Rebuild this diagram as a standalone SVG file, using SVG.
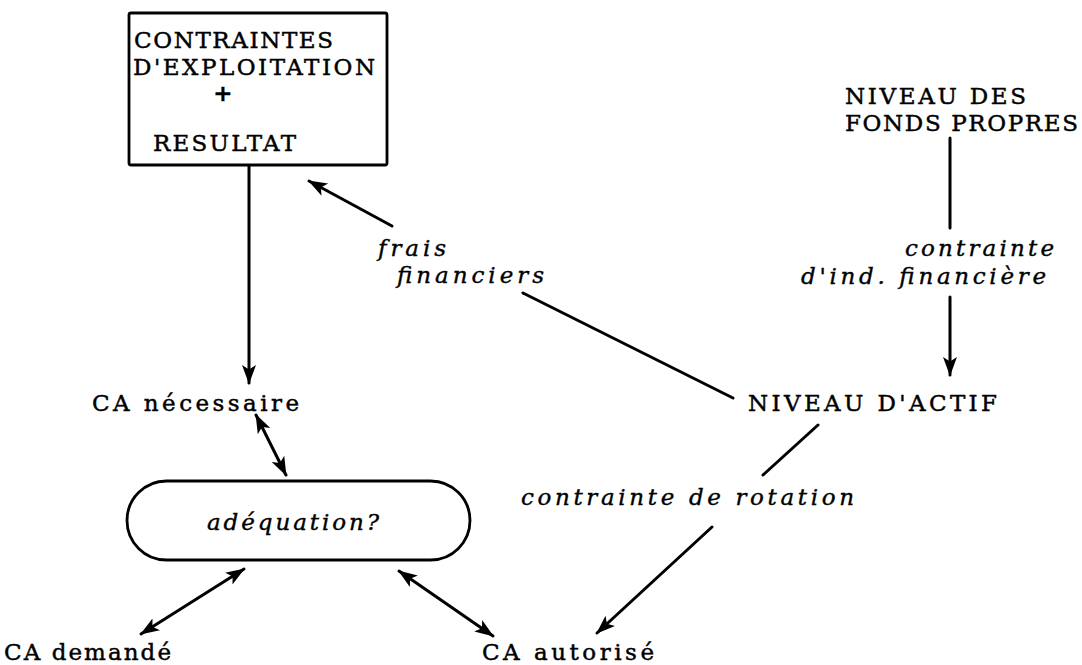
<svg xmlns="http://www.w3.org/2000/svg" width="1082" height="665" viewBox="0 0 1082 665">
  <defs>
    <style>
      .t { font-family: "DejaVu Serif", "Liberation Serif", serif; font-size: 23px; fill: #000; stroke: #000; stroke-width: 0.45; }
      .i { font-family: "DejaVu Serif", "Liberation Serif", serif; font-size: 23px; font-style: italic; fill: #000; stroke: #000; stroke-width: 0.4; }
      .edge { stroke: #000; stroke-width: 3; fill: none; stroke-linecap: round; }
      .shape { stroke: #000; stroke-width: 2.8; fill: #fff; }
    </style>
    <marker id="head" markerUnits="userSpaceOnUse" markerWidth="20" markerHeight="16" refX="18" refY="8" orient="auto-start-reverse">
      <path d="M0,1 L19,8 L0,15 L4.5,8 z" fill="#000"/>
    </marker>
  </defs>

  <rect width="1082" height="665" fill="#fff"/>

  <!-- connectors -->
  <g id="connectors">
    <!-- result box down to required turnover -->
    <line class="edge" x1="249" y1="165" x2="249" y2="383" marker-end="url(#head)"/>
    <!-- asset level back to the box: financial costs -->
    <line class="edge" x1="733" y1="398" x2="523" y2="293"/>
    <line class="edge" x1="392" y1="226" x2="309" y2="181" marker-end="url(#head)"/>
    <!-- equity level down to asset level -->
    <line class="edge" x1="950" y1="138" x2="950" y2="228"/>
    <line class="edge" x1="950" y1="297" x2="950" y2="375" marker-end="url(#head)"/>
    <!-- asset level down to authorised turnover: rotation constraint -->
    <line class="edge" x1="818" y1="425" x2="763" y2="475"/>
    <line class="edge" x1="712" y1="527" x2="597" y2="633" marker-end="url(#head)"/>
    <!-- two-way links around the adequacy test -->
    <line class="edge" x1="256" y1="415" x2="286" y2="475" marker-start="url(#head)" marker-end="url(#head)"/>
    <line class="edge" x1="244" y1="569" x2="141" y2="634" marker-start="url(#head)" marker-end="url(#head)"/>
    <line class="edge" x1="399" y1="571" x2="493" y2="636" marker-start="url(#head)" marker-end="url(#head)"/>
  </g>

  <g id="box-resultat">
    <rect class="shape" x="129" y="13" width="258" height="152" rx="2"/>
    <text class="t" x="134" y="48" textLength="199" lengthAdjust="spacing">CONTRAINTES</text>
    <text class="t" x="133" y="75" textLength="242" lengthAdjust="spacing">D'EXPLOITATION</text>
    <text class="t" x="223" y="101" text-anchor="middle" font-weight="bold">+</text>
    <text class="t" x="153" y="151" textLength="143" lengthAdjust="spacing">RESULTAT</text>
  </g>

  <g id="fonds-propres">
    <text class="t" x="845" y="104" textLength="181" lengthAdjust="spacing">NIVEAU DES</text>
    <text class="t" x="845" y="131" textLength="233" lengthAdjust="spacing">FONDS PROPRES</text>
  </g>

  <g id="label-frais">
    <text class="i" x="378" y="256" textLength="68" lengthAdjust="spacing">frais</text>
    <text class="i" x="397" y="283" textLength="147" lengthAdjust="spacing">financiers</text>
  </g>

  <g id="label-independance">
    <text class="i" x="905" y="256" textLength="149" lengthAdjust="spacing">contrainte</text>
    <text class="i" x="801" y="284" textLength="245" lengthAdjust="spacing">d'ind. financière</text>
  </g>

  <g id="ca-necessaire">
    <text class="t" x="92" y="411" textLength="207" lengthAdjust="spacing">CA nécessaire</text>
  </g>

  <g id="niveau-actif">
    <text class="t" x="748" y="411" textLength="249" lengthAdjust="spacing">NIVEAU D'ACTIF</text>
  </g>

  <g id="adequation">
    <rect class="shape" x="127" y="481" width="343" height="79" rx="39.5"/>
    <text class="i" x="207" y="530" textLength="172" lengthAdjust="spacing">adéquation?</text>
  </g>

  <g id="label-rotation">
    <text class="i" x="521" y="505" textLength="333" lengthAdjust="spacing">contrainte de rotation</text>
  </g>

  <g id="ca-demande">
    <text class="t" x="4" y="660" textLength="167" lengthAdjust="spacing">CA demandé</text>
  </g>

  <g id="ca-autorise">
    <text class="t" x="482" y="660" textLength="172" lengthAdjust="spacing">CA autorisé</text>
  </g>
</svg>
